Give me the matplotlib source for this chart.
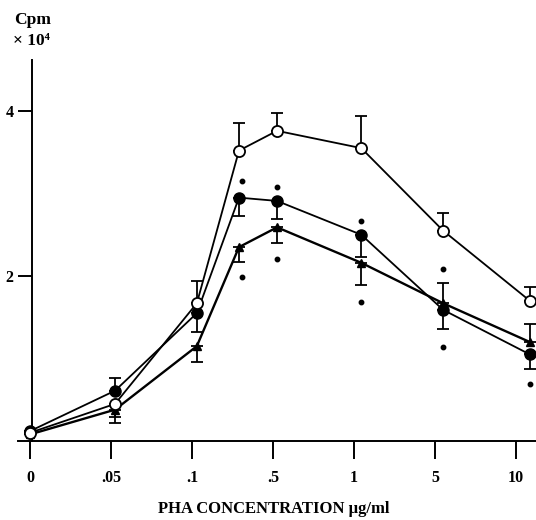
import matplotlib
matplotlib.use("Agg")
import matplotlib.pyplot as plt

plt.rcParams['font.family'] = ['Liberation Serif', 'DejaVu Serif']
plt.rcParams['font.weight'] = 'bold'

# categories (tick labels) and plotted positions of each dose
tick_labels = ["0", ".05", ".1", ".5", "1", "5", "10"]
tick_pos = [0, 1, 2, 3, 4, 5, 6]
x_pos = [0, 1.05, 2.06, 2.58, 3.05, 4.09, 5.10, 6.17]

# series values (Cpm x 10^4)
open_vals = [0.10, 0.45, 1.67, 3.52, 3.76, 3.55, 2.55, 1.70]
open_err_up = [0.0, 0.0, 0.27, 0.33, 0.22, 0.39, 0.21, 0.17]
open_err_dn = [0.0, 0.16, 0.0, 0.0, 0.0, 0.0, 0.0, 0.0]

filled_vals = [0.12, 0.61, 1.55, 2.95, 2.91, 2.50, 1.59, 1.05]
filled_err_up = [0.0, 0.15, 0.0, 0.0, 0.0, 0.0, 0.0, 0.0]
filled_err_dn = [0.0, 0.0, 0.23, 0.22, 0.22, 0.27, 0.23, 0.18]

tri_vals = [0.08, 0.38, 1.15, 2.35, 2.59, 2.16, 1.67, 1.20]
tri_err_up = [0.0, 0.0, 0.0, 0.0, 0.0, 0.0, 0.25, 0.22]
tri_err_dn = [0.0, 0.16, 0.19, 0.18, 0.19, 0.27, 0.0, 0.0]

# significance marks (asterisks shown as dots)
star_x = [2.62, 3.05, 4.09, 5.10, 2.62, 3.05, 4.09, 5.10, 6.17]
star_y = [3.15, 3.08, 2.67, 2.08, 1.99, 2.21, 1.68, 1.14, 0.69]

fig = plt.figure(figsize=(5.36, 5.20), dpi=100)
ax = fig.add_axes([0.0336, 0.1519, 0.9664, 0.7327])
ax.set_xlim(-0.148, 6.247)
ax.set_ylim(0, 4.618)

lw = 1.3
ax.errorbar(x_pos, tri_vals, yerr=[tri_err_dn, tri_err_up], fmt='none',
            ecolor='black', elinewidth=1.3, capsize=4, capthick=1.3, zorder=2)
ax.errorbar(x_pos, filled_vals, yerr=[filled_err_dn, filled_err_up], fmt='none',
            ecolor='black', elinewidth=1.3, capsize=4, capthick=1.3, zorder=2)
ax.errorbar(x_pos, open_vals, yerr=[open_err_dn, open_err_up], fmt='none',
            ecolor='black', elinewidth=1.3, capsize=4, capthick=1.3, zorder=2)

ax.plot(x_pos, tri_vals, color='black', lw=1.7, marker='^', ms=6, 
        mfc='black', mec='black', zorder=3)
ax.plot(x_pos, filled_vals, color='black', lw=lw, marker='o', ms=8,
        mfc='black', mec='black', zorder=4)
ax.plot(x_pos, open_vals, color='black', lw=lw, marker='o', ms=8,
        mfc='white', mec='black', mew=1.3, zorder=5)

ax.plot(star_x, star_y, linestyle='none', marker='o', ms=3.2, color='black', zorder=3)

for s in ['top', 'right']:
    ax.spines[s].set_visible(False)
ax.spines['left'].set_position(('data', 0.02))
ax.spines['left'].set_linewidth(1.4)
ax.spines['bottom'].set_linewidth(1.4)

ax.set_xticks(tick_pos)
ax.set_xticklabels(tick_labels, fontsize=11.5, fontweight='bold')
ax.set_yticks([2, 4])
ax.set_yticklabels(["2", "4"], fontsize=11.5, fontweight='bold')
ax.tick_params(axis='x', direction='out', length=13, width=1.4, pad=8)
ax.tick_params(axis='y', direction='out', length=10, width=1.4, pad=3)

fig.text(0.51, 0.021, "PHA CONCENTRATION μg/ml", ha='center', va='center',
         fontsize=12, fontweight='bold')
fig.text(0.026, 0.962, "Cpm", ha='left', va='center', fontsize=12.5, fontweight='bold')
fig.text(0.024, 0.922, "× 10⁴", ha='left', va='center', fontsize=12.5, fontweight='bold')

fig.savefig("out.png", dpi=100)
